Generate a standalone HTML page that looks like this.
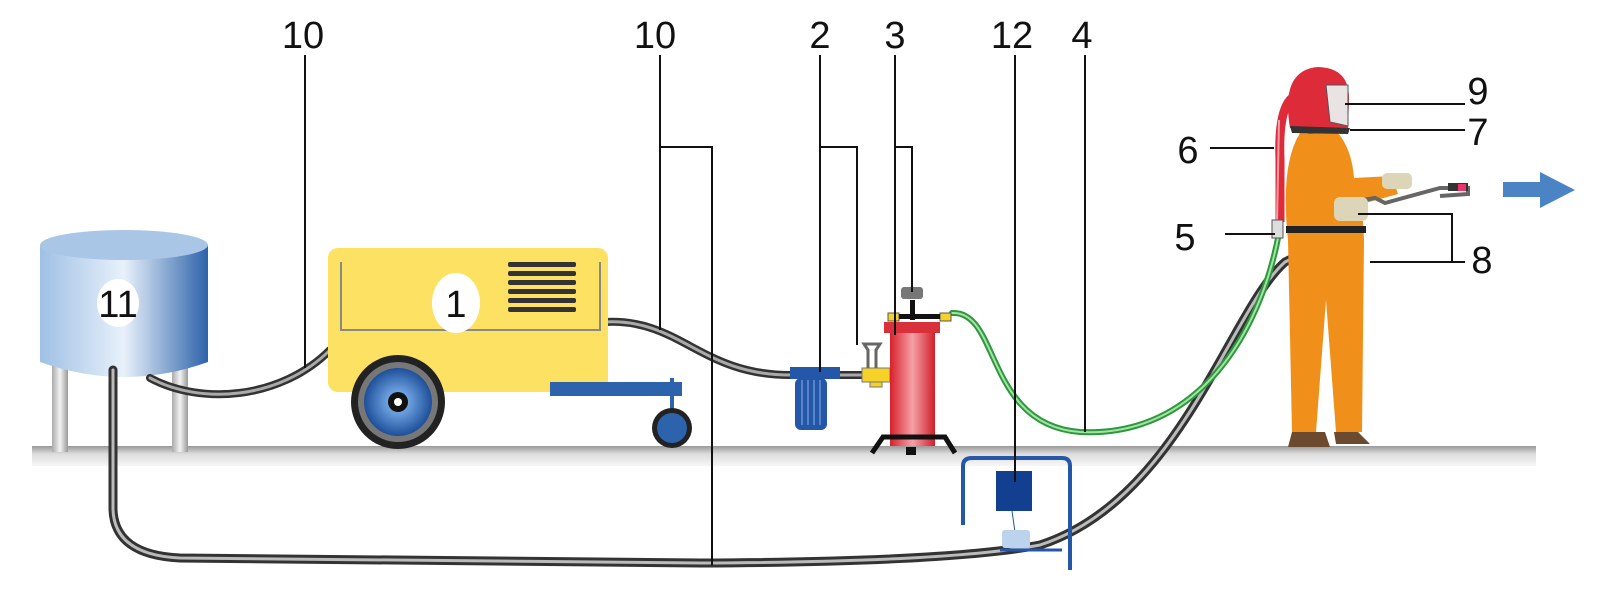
<!DOCTYPE html>
<html><head><meta charset="utf-8"><style>html,body{margin:0;padding:0;background:#fff}svg{display:block}text{font-family:"Liberation Sans",sans-serif;font-size:38px;fill:#111}</style></head><body>
<svg width="1600" height="606" viewBox="0 0 1600 606" xmlns="http://www.w3.org/2000/svg">
<defs>
<linearGradient id="tank" x1="0" x2="1"><stop offset="0" stop-color="#9fc0e4"/><stop offset="0.5" stop-color="#e8f1fb"/><stop offset="1" stop-color="#2d63aa"/></linearGradient>
<linearGradient id="leg" x1="0" x2="1"><stop offset="0" stop-color="#aaa"/><stop offset="0.5" stop-color="#f3f3f3"/><stop offset="1" stop-color="#999"/></linearGradient>
<linearGradient id="red" x1="0" x2="1"><stop offset="0" stop-color="#d8202c"/><stop offset="0.5" stop-color="#f6a0a6"/><stop offset="1" stop-color="#d01f2a"/></linearGradient>
<linearGradient id="gnd" x1="0" x2="0" y1="0" y2="1"><stop offset="0" stop-color="#999"/><stop offset="0.4" stop-color="#ddd"/><stop offset="1" stop-color="#f6f6f6"/></linearGradient>
<radialGradient id="wh"><stop offset="0.3" stop-color="#6ea3e0"/><stop offset="1" stop-color="#1e4f9a"/></radialGradient>
</defs>
<rect x="32" y="446" width="1504" height="20" fill="url(#gnd)"/>
<rect x="52" y="360" width="16" height="92" fill="url(#leg)"/>
<rect x="172" y="360" width="16" height="92" fill="url(#leg)"/>
<path d="M40 245 L40 362 Q124 392 208 362 L208 245 Z" fill="url(#tank)"/>
<ellipse cx="124" cy="245" rx="84" ry="15" fill="#a9c6e6"/>
<ellipse cx="118" cy="303" rx="21" ry="24" fill="#fff"/>
<text x="118" y="317" text-anchor="middle">11</text>
<g fill="none" stroke-linecap="round">
<path d="M150 378 C200 405 280 400 330 350" stroke="#333" stroke-width="8"/>
<path d="M150 378 C200 405 280 400 330 350" stroke="#aaa" stroke-width="3"/>
<path d="M605 322 C680 318 700 375 790 375 L905 375" stroke="#333" stroke-width="8"/>
<path d="M605 322 C680 318 700 375 790 375 L905 375" stroke="#aaa" stroke-width="3"/>
<path d="M113 370 L113 510 Q115 555 180 558 L700 563 Q950 562 1040 545 C1180 500 1230 310 1285 262 Q1330 240 1350 232" stroke="#333" stroke-width="9"/>
<path d="M113 370 L113 510 Q115 555 180 558 L700 563 Q950 562 1040 545 C1180 500 1230 310 1285 262 Q1330 240 1350 232" stroke="#bbb" stroke-width="3"/>
<path d="M952 313 C1000 310 985 425 1080 432 C1200 438 1260 330 1278 238" stroke="#2a9a3c" stroke-width="6"/>
<path d="M952 313 C1000 310 985 425 1080 432 C1200 438 1260 330 1278 238" stroke="#a8e0a8" stroke-width="2"/>
</g>
<rect x="328" y="248" width="280" height="144" rx="10" fill="#fde162"/>
<path d="M341 262 V330 H600 V262" fill="none" stroke="#888" stroke-width="2"/>
<g fill="#333"><rect x="508" y="262" width="68" height="5" rx="2"/><rect x="508" y="271" width="68" height="5" rx="2"/><rect x="508" y="280" width="68" height="5" rx="2"/><rect x="508" y="289" width="68" height="5" rx="2"/><rect x="508" y="298" width="68" height="5" rx="2"/><rect x="508" y="307" width="68" height="5" rx="2"/></g>
<ellipse cx="456" cy="303" rx="24" ry="30" fill="#fff"/>
<text x="456" y="317" text-anchor="middle">1</text>
<rect x="550" y="382" width="132" height="14" fill="#2d62ad"/>
<rect x="670" y="378" width="4" height="45" fill="#2d62ad"/>
<circle cx="672" cy="428" r="20" fill="#222"/><circle cx="672" cy="428" r="15" fill="#2d62ad"/>
<circle cx="398" cy="402" r="47" fill="#222"/><circle cx="398" cy="402" r="40" fill="#777"/><circle cx="398" cy="402" r="34" fill="url(#wh)"/><circle cx="398" cy="402" r="10" fill="#111"/><circle cx="398" cy="402" r="4" fill="#fff"/>
<rect x="790" y="367" width="50" height="12" fill="#2457a8"/>
<rect x="795" y="378" width="32" height="52" rx="6" fill="#2457a8"/>
<g stroke="#6a92d0" stroke-width="1.5"><line x1="802" y1="380" x2="802" y2="425"/><line x1="808" y1="380" x2="808" y2="425"/><line x1="814" y1="380" x2="814" y2="425"/><line x1="820" y1="380" x2="820" y2="425"/></g>
<rect x="862" y="368" width="28" height="14" fill="#f5d12a" stroke="#777"/>
<rect x="870" y="382" width="12" height="5" fill="#f5d12a" stroke="#777"/>
<path d="M868 368 V350 L864 344 H880 L876 350 V368" fill="none" stroke="#666" stroke-width="3"/>
<rect x="890" y="328" width="45" height="118" fill="url(#red)"/>
<rect x="884" y="322" width="56" height="11" fill="#d8313c"/>
<rect x="888" y="313" width="11" height="8" fill="#f5d12a" stroke="#555"/><rect x="940" y="313" width="11" height="8" fill="#f5d12a" stroke="#555"/>
<rect x="899" y="314" width="41" height="5" fill="#111"/><rect x="910" y="300" width="5" height="20" fill="#111"/>
<rect x="901" y="287" width="22" height="12" rx="3" fill="#777"/>
<path d="M872 453 L883 437 H945 L955 453" fill="none" stroke="#111" stroke-width="5"/>
<rect x="906" y="447" width="10" height="8" fill="#111"/>
<path d="M963 525 V466 Q963 458 972 458 H1062 Q1070 458 1070 466 V570" fill="none" stroke="#2457a8" stroke-width="4"/>
<rect x="996" y="471" width="36" height="40" fill="#123f8f"/>
<line x1="1012" y1="511" x2="1015" y2="532" stroke="#2457a8"/>
<rect x="1002" y="530" width="28" height="18" rx="3" fill="#bcd3ee"/>
<line x1="1000" y1="550" x2="1062" y2="550" stroke="#2457a8" stroke-width="3"/>
<!-- person -->
<path d="M1300 133 L1338 133 Q1352 150 1354 178 L1392 176 L1398 194 L1362 204 L1364 240 L1362 432 L1336 432 L1326 300 L1316 432 L1292 432 L1288 240 Q1280 165 1300 133 Z" fill="#f08f1a"/>
<path d="M1292 432 H1325 L1330 447 H1288 Z M1334 432 H1358 L1370 444 H1336 Z" fill="#6b4a30"/>
<rect x="1286" y="226" width="80" height="7" fill="#222"/>
<path d="M1292 98 Q1278 110 1280 160 L1280 222" stroke="#de2b3a" stroke-width="9" fill="none"/>
<path d="M1279 120 L1277 222" stroke="#f5a0a6" stroke-width="2" fill="none"/>
<rect x="1272" y="220" width="11" height="18" fill="#ddd" stroke="#555"/>
<path d="M1290 128 Q1280 70 1318 67 Q1350 68 1349 100 L1348 128 L1310 134 Z" fill="#de2b3a"/>
<path d="M1290 126 L1350 128 L1348 134 L1292 133 Z" fill="#333"/>
<path d="M1326 85 H1348 V126 L1330 122 Z" fill="#e9e3e3" stroke="#555"/>
<path d="M1345 203 L1375 198 L1385 203 L1440 188 L1468 188 L1468 194 L1440 196" stroke="#666" stroke-width="4" fill="none"/>
<rect x="1448" y="183" width="20" height="8" fill="#333"/><rect x="1458" y="184" width="8" height="7" fill="#e36"/>
<rect x="1382" y="173" width="30" height="16" rx="5" fill="#ddd5b8"/>
<rect x="1334" y="197" width="34" height="24" rx="6" fill="#ddd5b8"/>
<path d="M1503 182 H1540 V172 L1575 190 L1540 208 V197 H1503 Z" fill="#4b84c5"/>
<g stroke="#111" stroke-width="2" fill="none">
<path d="M305 55 V368"/>
<path d="M660 55 V330 M660 147 H712 V565"/>
<path d="M820 55 V372 M820 147 H857 V345"/>
<path d="M895 55 V335 M895 147 H912 V292"/>
<path d="M1015 55 V482"/>
<path d="M1085 55 V432"/>
<path d="M1345 104 H1465"/>
<path d="M1350 130 H1465"/>
<path d="M1210 148 H1274"/>
<path d="M1225 234 H1275"/>
<path d="M1358 214 H1452 V262 H1465 M1370 262 H1452"/>
</g>
<text x="303" y="48" text-anchor="middle">10</text>
<text x="655" y="48" text-anchor="middle">10</text>
<text x="820" y="48" text-anchor="middle">2</text>
<text x="895" y="48" text-anchor="middle">3</text>
<text x="1012" y="48" text-anchor="middle">12</text>
<text x="1082" y="48" text-anchor="middle">4</text>
<text x="1478" y="104" text-anchor="middle">9</text>
<text x="1478" y="145" text-anchor="middle">7</text>
<text x="1188" y="163" text-anchor="middle">6</text>
<text x="1185" y="250" text-anchor="middle">5</text>
<text x="1482" y="273" text-anchor="middle">8</text>
</svg>
</body></html>
